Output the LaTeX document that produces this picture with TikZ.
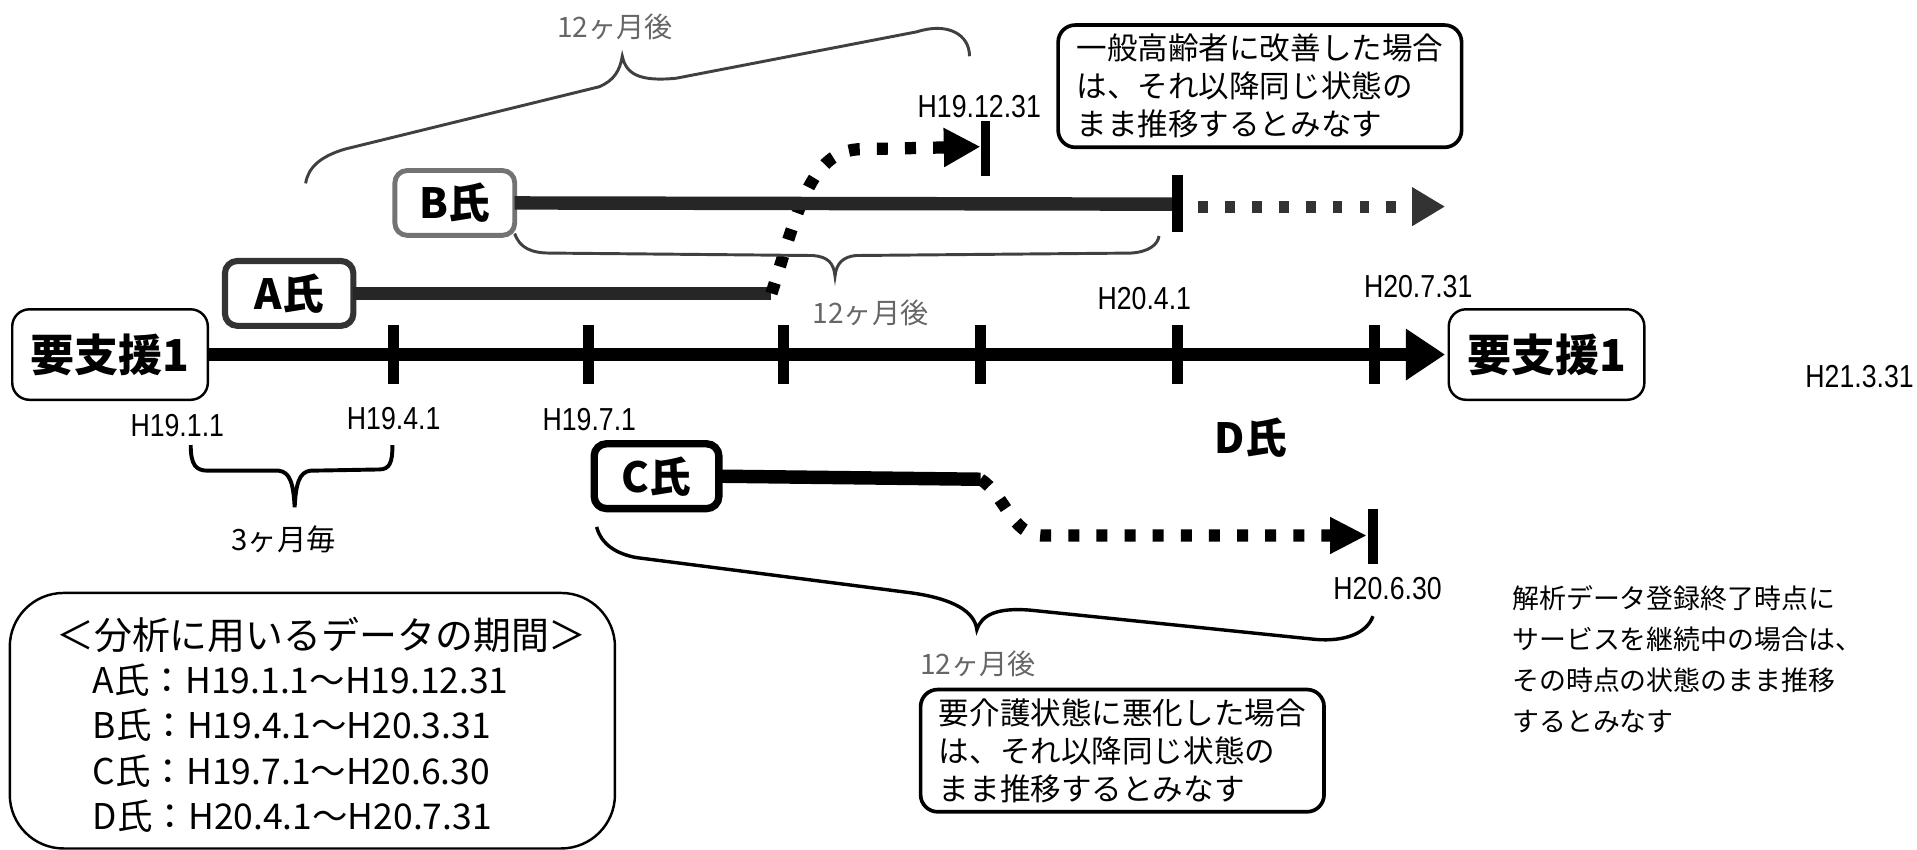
\documentclass[tikz,border=0pt]{standalone}
\usepackage{fontspec}
\newfontfamily\jp{Noto Sans CJK JP}
\newfontfamily\dt[FakeStretch=0.84]{Liberation Sans}
\usetikzlibrary{arrows.meta}
\begin{document}
\begin{tikzpicture}[x=0.5pt,y=-0.5pt,
  every node/.style={inner sep=0pt, outer sep=0pt},
  state/.style={draw, line width=1pt, rounded corners=7pt, minimum width=80pt, minimum height=37pt, font=\jp\bfseries\fontsize{18}{20}\selectfont},
  person/.style={draw, rounded corners=5pt, minimum height=26.5pt, font=\jp\bfseries\fontsize{17}{19}\selectfont},
  callout/.style={draw, line width=1.5pt, rounded corners=7pt, align=left, font=\jp\fontsize{12.5}{15.5}\selectfont, minimum width=165pt, minimum height=50pt},
  datelbl/.style={font=\dt\fontsize{13}{15}\selectfont},
  period/.style={font=\jp\fontsize{11.5}{13}\selectfont, text=black!60},
  axisline/.style={line width=5.5pt},
  tickline/.style={line width=4.5pt},
  dotline/.style={line width=5pt, dash pattern=on 4.5pt off 7pt},
  bracepath/.style={line width=1.2pt},
]
\useasboundingbox (0,0) rectangle (1568,695);

% main timeline
\node[state] (s0) at (90,290) {要支援1};
\node[state] (s1) at (1265,290) {要支援1};
\draw[axisline, -{Triangle[length=16pt,width=20pt]}] (s0.east) -- ([xshift=-1.5pt]s1.west);
\foreach \x/\n in {322/t1,481/t2,641/t3,802/t4,963/t5,1124/t6}{
  \coordinate (\n) at (\x,290);
  \draw[tickline] (\x,266) -- (\x,314);
}

% date labels
\node[datelbl] (d1) at (145,348) {H19.1.1};
\node[datelbl] (d2) at (322,342) {H19.4.1};
\node[datelbl] (d3) at (482,343) {H19.7.1};
\node[datelbl] (d4) at (936,244) {H20.4.1};
\node[datelbl] (d5) at (1160,234) {H20.7.31};
\node[datelbl] (d6) at (1521,308) {H21.3.31};
\node[datelbl] (d7) at (801,87) {H19.12.31};
\node[datelbl] (d8) at (1135,481) {H20.6.30};

% A
\node[person, minimum width=52.5pt, line width=2.5pt, draw=black!80] (A) at (236.5,240) {A氏};
\coordinate (Aend) at (631,240);
\coordinate (Atip) at (802,120);
\draw[axisline, black!85] (A.east) -- (Aend);
\draw[dotline, -{Triangle[length=15pt,width=15pt]}] (Aend) .. controls (652,175) and (662,122) .. (705,122) -- (Atip);
\draw[tickline, line width=4pt] (806,99) -- (806,144);

% B
\node[person, minimum width=49pt, line width=2pt, draw=black!55] (B) at (372,166) {B氏};
\coordinate (Bend) at (963,167);
\draw[axisline, black!85] (B.east) -- (Bend);
\draw[tickline] (963,143) -- (963,190);
\coordinate (Bdot) at (980,169);
\coordinate (Btip) at (1182,169);
\draw[dotline, black!80, dash pattern=on 4pt off 7pt, -{Triangle[length=13.5pt,width=15pt]}] (Bdot) -- (Btip);

% C
\node[person, minimum width=51pt, line width=3pt] (C) at (537,389.5) {C氏};
\coordinate (Cend) at (802,392);
\coordinate (Ctip) at (1118,438);
\draw[axisline] (C.east) -- (Cend);
\draw[dotline, -{Triangle[length=15pt,width=14pt]}] (Cend) .. controls (822,405) and (828,438) .. (852,438) -- (Ctip);
\draw[tickline, line width=4pt] (1123,416) -- (1123,461);

% D
\node[font=\jp\bfseries\fontsize{17}{19}\selectfont] (D) at (1023,358) {D氏};

% braces
\draw[bracepath, black!75] (250,150) .. controls (252,137) and (262,128) .. (282,122) -- (490,71) .. controls (502,66) and (507,58) .. (509,46) .. controls (512,60) and (522,67) .. (553,64) -- (750,26) .. controls (775,18) and (793,28) .. (793,46);
\draw[bracepath, black!75] (421,191) .. controls (425,203) and (435,207) .. (450,207) -- (665,209) .. controls (677,210) and (682,215) .. (683,226) .. controls (684,215) and (690,210) .. (700,209) -- (925,207) .. controls (940,206) and (947,200) .. (948,193);
\draw[bracepath, line width=1.4pt] (488,431) .. controls (492,446) and (505,453) .. (520,456) -- (746,485) .. controls (780,490) and (797,500) .. (799,515) .. controls (803,503) and (815,497) .. (842,499) -- (1076,523) .. controls (1100,525) and (1118,518) .. (1123,504);
\draw[bracepath, line width=1.6pt] (156,364) .. controls (156,380) and (160,385) .. (170,385) -- (228,385) .. controls (237,386) and (240,395) .. (241,415) .. controls (242,395) and (245,386) .. (254,385) -- (310,384) .. controls (319,384) and (321,378) .. (321,364);

% period labels
\node[period] (p1) at (503,22) {12ヶ月後};
\node[period] (p2) at (712,256) {12ヶ月後};
\node[period] (p3) at (800,543) {12ヶ月後};
\node[font=\jp\fontsize{12}{14}\selectfont] (m3) at (232,441) {3ヶ月毎};

% callouts
\node[callout] (n1) at (1030.5,70.5) {一般高齢者に改善した場合\\は、それ以降同じ状態の\\まま推移するとみなす};
\node[callout] (n2) at (918,614) {要介護状態に悪化した場合\\は、それ以降同じ状態の\\まま推移するとみなす};

% note
\node[font=\jp\fontsize{11}{16.75}\selectfont, align=left, anchor=west] (note) at (1237,539) {解析データ登録終了時点に\\サービスを継続中の場合は、\\その時点の状態のまま推移\\するとみなす};

% legend
\node[draw, line width=1pt, rounded corners=22pt, minimum width=247.5pt, minimum height=104.5pt] (leg) at (255.5,589.5) {};
\node[font=\jp\fontsize{15.5}{18}\selectfont] (legt) at (263,519) {＜分析に用いるデータの期間＞};
\node[font=\jp\fontsize{14.5}{18.6}\selectfont, align=left, anchor=west] (legl) at (76,612) {A氏：H19.1.1～H19.12.31\\B氏：H19.4.1～H20.3.31\\C氏：H19.7.1～H20.6.30\\D氏：H20.4.1～H20.7.31};
\end{tikzpicture}
\end{document}
